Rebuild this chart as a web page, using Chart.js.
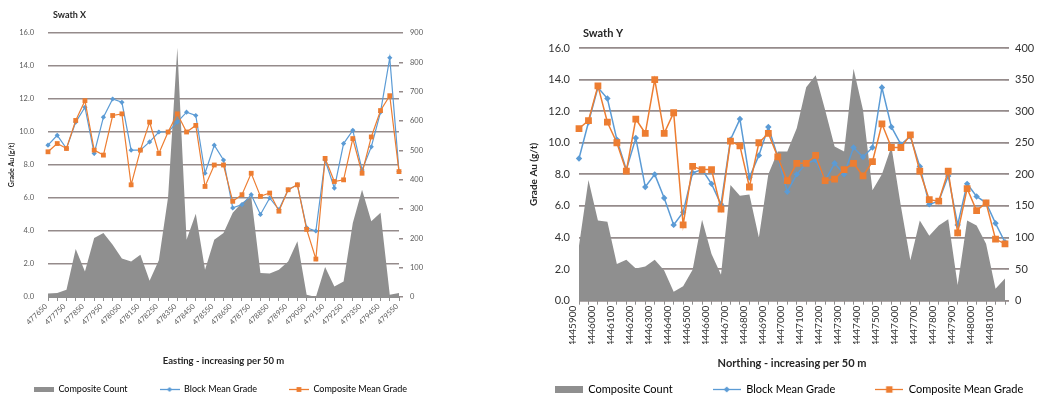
<!DOCTYPE html>
<html><head><meta charset="utf-8">
<script src="https://cdn.jsdelivr.net/npm/chart.js@4.4.0/dist/chart.umd.min.js"></script>
<style>
html,body{margin:0;padding:0;background:#fff;overflow:hidden;width:1040px;height:395px;position:relative;}
#wx{position:absolute;left:-40px;top:0;width:530px;height:404px;}
#wy{position:absolute;left:500px;top:0;width:600px;height:405px;}
</style></head><body>
<div id="wx"><canvas id="cx"></canvas></div>
<div id="wy"><canvas id="cy"></canvas></div>
<script>
// ---------- Swath X data ----------
const eastingCategories = [477650,477700,477750,477800,477850,477900,477950,478000,478050,478100,478150,478200,478250,478300,478350,478400,478450,478500,478550,478600,478650,478700,478750,478800,478850,478900,478950,479000,479050,479100,479150,479200,479250,479300,479350,479400,479450,479500,479550];
const swathXCompositeCount = [12,14,25,164,87,201,218,178,131,121,144,55,125,340,850,195,284,93,195,218,287,321,343,82,80,93,121,190,8,0,102,36,53,252,366,258,287,8,14];
const swathXBlockMeanGrade = [9.2,9.8,9.0,10.6,11.5,8.7,10.9,12.0,11.8,8.9,8.9,9.4,10.0,10.0,10.6,11.2,11.0,7.5,9.2,8.3,5.4,5.6,6.2,5.0,6.0,5.3,6.5,6.8,4.2,4.0,8.3,6.6,9.3,10.1,7.7,9.1,11.2,14.5,7.6];
const swathXCompositeMeanGrade = [8.8,9.3,9.0,10.7,11.9,8.9,8.6,11.0,11.1,6.8,8.9,10.6,8.7,10.0,11.1,10.0,10.4,6.7,8.0,8.0,5.8,6.2,7.5,6.1,6.3,5.2,6.5,6.8,4.1,2.3,8.4,7.0,7.1,9.6,7.5,9.7,11.3,12.2,7.6];

// ---------- Swath Y data ----------
const northingCategories = [4445900,4445950,4446000,4446050,4446100,4446150,4446200,4446250,4446300,4446350,4446400,4446450,4446500,4446550,4446600,4446650,4446700,4446750,4446800,4446850,4446900,4446950,4447000,4447050,4447100,4447150,4447200,4447250,4447300,4447350,4447400,4447450,4447500,4447550,4447600,4447650,4447700,4447750,4447800,4447850,4447900,4447950,4448000,4448050,4448100,4448150];
const swathYCompositeCount = [87,191,127,125,58,65,51,54,65,48,14,23,49,128,74,41,183,166,168,100,200,236,236,273,338,357,302,244,236,367,302,175,200,244,150,64,127,103,119,129,25,127,119,90,19,35];
const swathYBlockMeanGrade = [9.0,11.3,13.5,12.8,10.2,8.3,10.3,7.2,8.0,6.5,4.8,5.6,8.1,8.3,7.4,6.1,10.2,11.5,7.8,9.2,11.0,9.1,6.9,8.0,8.7,8.9,7.6,8.7,8.0,9.7,9.1,9.7,13.5,11.0,9.9,10.4,8.5,6.1,6.3,7.9,4.8,7.4,6.6,6.2,4.9,3.7];
const swathYCompositeMeanGrade = [10.9,11.4,13.6,11.3,10.0,8.2,11.5,10.6,14.0,10.6,11.9,4.8,8.5,8.3,8.3,5.8,10.1,9.8,7.2,10.0,10.6,9.1,7.6,8.7,8.7,9.2,7.6,7.7,8.3,8.7,7.9,8.8,11.2,9.7,9.7,10.5,8.2,6.4,6.3,8.2,4.3,7.1,5.7,6.2,3.9,3.6];

const seriesNames = ['Composite Count','Block Mean Grade','Composite Mean Grade'];
const gradeTicks = {min:0, max:16, step:2};

const GREY = '#8f8f8f', BLUE = '#5b9bd5', ORANGE = '#ed7d31', GRID = '#958b8b', AXIS = '#8e8e8e';
const FONT = "Lato, 'Liberation Sans', sans-serif";
Chart.defaults.font.family = FONT;
Chart.defaults.animation = false;

function legendImg(kind, color, w, h, r, boxH) {
  const c = document.createElement('canvas'); c.width = w; c.height = h;
  const g = c.getContext('2d');
  if (kind === 'area') {
    g.fillStyle = color; g.fillRect(0, (h - boxH) / 2, w, boxH);
  } else {
    g.strokeStyle = color; g.lineWidth = 1.3;
    g.beginPath(); g.moveTo(0, h / 2); g.lineTo(w, h / 2); g.stroke();
    g.fillStyle = color;
    const cx = w / 2, cy = h / 2;
    if (kind === 'diamond') {
      g.beginPath(); g.moveTo(cx, cy - r); g.lineTo(cx + r, cy); g.lineTo(cx, cy + r); g.lineTo(cx - r, cy); g.closePath(); g.fill();
    } else {
      g.fillRect(cx - r, cy - r, 2 * r, 2 * r);
    }
  }
  return c;
}

const titlePlugin = {
  id: 'swathTitle',
  afterDraw(chart, args, o) {
    const ctx = chart.ctx; ctx.save();
    ctx.font = o.font; ctx.fillStyle = o.color; ctx.textBaseline = 'middle'; ctx.textAlign = 'left';
    ctx.fillText(o.text, o.x, o.y); ctx.restore();
  }
};

function makeChart(id, cfg) {
  const imgs = [
    legendImg('area', GREY, cfg.legW, cfg.legH, 0, cfg.legBoxH),
    legendImg('diamond', BLUE, cfg.legW, cfg.legH, cfg.legDia, 0),
    legendImg('square', ORANGE, cfg.legW, cfg.legH, cfg.legSq, 0)
  ];
  return new Chart(document.getElementById(id), {
    type: 'line',
    data: {
      labels: cfg.categories,
      datasets: [
        { label: seriesNames[0], data: cfg.count, yAxisID: 'y2', fill: 'origin', backgroundColor: GREY, borderColor: 'rgba(0,0,0,0)', borderWidth: 0, pointRadius: 0, tension: 0, order: 3 },
        { label: seriesNames[1], data: cfg.block, yAxisID: 'y', borderColor: BLUE, backgroundColor: BLUE, borderWidth: cfg.lw, pointStyle: 'rectRot', pointRadius: cfg.diaR, pointBorderWidth: 0, tension: 0, fill: false, order: 2 },
        { label: seriesNames[2], data: cfg.comp, yAxisID: 'y', borderColor: ORANGE, backgroundColor: ORANGE, borderWidth: cfg.lw, pointStyle: 'rect', pointRadius: cfg.sqR, pointBorderWidth: 0, tension: 0, fill: false, order: 1 }
      ]
    },
    options: {
      responsive: true, maintainAspectRatio: false, devicePixelRatio: 1,
      layout: { padding: { top: cfg.padTop, left: 0, right: cfg.padRight, bottom: 0 } },
      plugins: {
        tooltip: { enabled: false },
        swathTitle: { text: cfg.title, x: cfg.titleX, y: cfg.titleY, font: 'bold ' + cfg.titleSize + 'px ' + FONT, color: '#262626' },
        legend: {
          position: 'bottom',
          labels: {
            usePointStyle: true, pointStyleWidth: cfg.legW, padding: cfg.legPad,
            font: { size: cfg.legFont }, color: cfg.textColor,
            generateLabels: () => seriesNames.map((t, i) => ({ text: t, pointStyle: imgs[i], datasetIndex: i, hidden: false, lineWidth: 0, fillStyle: 'rgba(0,0,0,0)', strokeStyle: 'rgba(0,0,0,0)' }))
          }
        }
      },
      scales: {
        x: {
          type: 'category', offset: false,
          grid: { display: true, drawOnChartArea: false, drawTicks: true, tickLength: 4, color: AXIS },
          border: { display: true, color: AXIS, width: 1 },
          ticks: { autoSkip: false, minRotation: cfg.rot, maxRotation: cfg.rot, padding: 1, labelOffset: cfg.labelOffset,
                   font: { size: cfg.xTickFont }, color: cfg.textColor,
                   callback: (v, i) => (i % 2 === 0 ? String(cfg.categories[i]) : '') },
          title: { display: true, text: cfg.xTitle, font: { size: cfg.xTitleFont, weight: 'bold' }, color: '#262626', padding: { top: 0, bottom: cfg.xTitlePadB } },
          afterFit: s => { s.height = cfg.xH; }
        },
        y: {
          position: 'left', min: gradeTicks.min, max: gradeTicks.max,
          ticks: { stepSize: gradeTicks.step, padding: cfg.yTickPad, font: { size: cfg.yTickFont }, color: cfg.textColor, callback: v => Number(v).toFixed(1) },
          grid: { display: true, drawOnChartArea: true, color: GRID, lineWidth: cfg.gridW, drawTicks: false },
          border: { display: false },
          title: { display: true, text: 'Grade Au (g/t)', font: { size: cfg.yTitleFont, weight: 'bold' }, color: '#262626', padding: { top: cfg.yTitlePad, bottom: 0 } },
          afterFit: s => { s.width = cfg.yW; }
        },
        y2: {
          position: 'right', min: 0, max: cfg.countMax,
          ticks: { stepSize: cfg.countStep, padding: cfg.y2TickPad, font: { size: cfg.yTickFont }, color: cfg.textColor },
          grid: { display: true, drawOnChartArea: false, drawTicks: true, tickLength: 4, color: GRID, lineWidth: cfg.gridW },
          border: { display: false },
          afterFit: s => { s.width = cfg.y2W; }
        }
      }
    },
    plugins: [titlePlugin]
  });
}

makeChart('cx', {
  categories: eastingCategories, count: swathXCompositeCount, block: swathXBlockMeanGrade, comp: swathXCompositeMeanGrade,
  title: 'Swath X', titleX: 93, titleY: 15, titleSize: 9,
  xTitle: 'Easting - increasing per 50 m', xTitleFont: 9.5, xTitlePadB: -14,
  padTop: 33, padRight: 9, yW: 88, y2W: 82, xH: 56, gridW: 1.5,
  rot: 45, labelOffset: -2, xTickFont: 7.5, yTickFont: 7.5, yTickPad: 14, y2TickPad: 7,
  yTitleFont: 7, yTitlePad: 47.8, textColor: '#595959',
  countMax: 900, countStep: 100, lw: 1.2, diaR: 2.6, sqR: 3.4,
  legW: 20, legH: 9, legBoxH: 5, legDia: 2.5, legSq: 2.4, legPad: 32, legFont: 9
});

makeChart('cy', {
  categories: northingCategories, count: swathYCompositeCount, block: swathYBlockMeanGrade, comp: swathYCompositeMeanGrade,
  title: 'Swath Y', titleX: 83, titleY: 33, titleSize: 11,
  xTitle: 'Northing - increasing per 50 m', xTitleFont: 11, xTitlePadB: -26.5,
  padTop: 48, padRight: 22, yW: 79, y2W: 73, xH: 43.3, gridW: 1.8,
  rot: 90, labelOffset: -6, xTickFont: 10, yTickFont: 11, yTickPad: 9, y2TickPad: 6,
  yTitleFont: 10, yTitlePad: 28, textColor: '#333333',
  countMax: 400, countStep: 50, lw: 1.5, diaR: 3.2, sqR: 4.8,
  legW: 28, legH: 11, legBoxH: 7, legDia: 3, legSq: 3.2, legPad: 40, legFont: 11
});
</script>
</body></html>
